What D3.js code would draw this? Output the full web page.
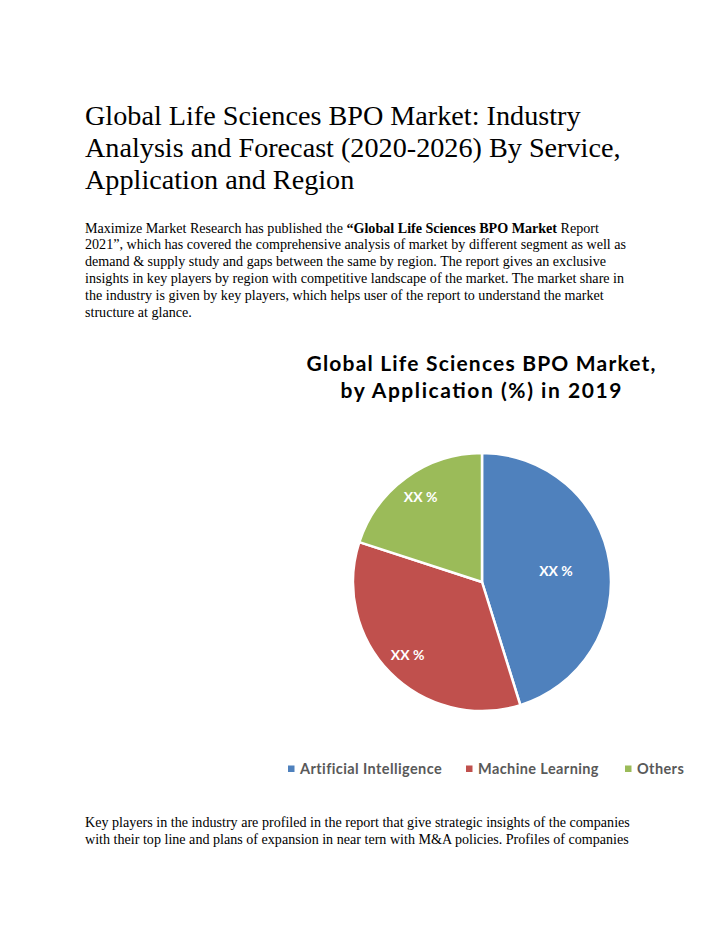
<!DOCTYPE html>
<html>
<head>
<meta charset="utf-8">
<script src="https://cdn.jsdelivr.net/npm/d3@7"></script>
<style>
html,body{margin:0;padding:0;background:#fff;}
svg{display:block;}
</style>
</head>
<body>
<script>
const titleLines = [
  "Global Life Sciences BPO Market: Industry",
  "Analysis and Forecast (2020-2026) By Service,",
  "Application and Region"
];
const introLines = [
  [["Maximize Market Research has published the ", false], ["\u201cGlobal Life Sciences BPO Market", true], [" Report", false]],
  [["2021\u201d, which has covered the comprehensive analysis of market by different segment as well as", false]],
  [["demand & supply study and gaps between the same by region. The report gives an exclusive", false]],
  [["insights in key players by region with competitive landscape of the market. The market share in", false]],
  [["the industry is given by key players, which helps user of the report to understand the market", false]],
  [["structure at glance.", false]]
];
const outroLines = [
  "Key players in the industry are profiled in the report that give strategic insights of the companies",
  "with their top line and plans of expansion in near tern with M&A policies. Profiles of companies"
];
const chartTitle = ["Global Life Sciences BPO Market,", "by Application (%) in 2019"];
const categories = ["Artificial Intelligence", "Machine Learning", "Others"];
const shares = [45.2, 34.8, 20.0];
const labels = ["XX %", "XX %", "XX %"];
const colors = ["#4f81bd", "#c0504d", "#9bbb59"];

const W = 720, H = 931;
const serif = "'Liberation Serif', 'Times New Roman', serif";
const sans = "Lato, 'Open Sans', sans-serif";
const svg = d3.select("body").append("svg").attr("width", W).attr("height", H);

// Page heading (24pt Times)
svg.append("g").selectAll("text").data(titleLines).join("text")
  .attr("x", 85).attr("y", (d, i) => 124.5 + i * 32.4)
  .attr("font-family", serif)
  .attr("font-size", 28.2).attr("fill", "#000").text(d => d);

// Intro paragraph (12pt Times)
const intro = svg.append("g").attr("font-family", serif)
  .attr("font-size", 14.1).attr("fill", "#000");
introLines.forEach((line, i) => {
  const t = intro.append("text").attr("x", 85).attr("y", 232.5 + i * 16.8);
  line.forEach(([s, b]) => t.append("tspan").attr("font-weight", b ? "bold" : "normal").text(s));
});

// Chart title
const titleWidths = [349, 281];
svg.append("g").selectAll("text").data(chartTitle).join("text")
  .attr("x", 481).attr("y", (d, i) => 371 + i * 26.5)
  .attr("text-anchor", "middle")
  .attr("font-family", sans).attr("font-weight", "bold")
  .attr("font-size", 21).attr("fill", "#000")
  .attr("textLength", (d, i) => titleWidths[i]).attr("lengthAdjust", "spacing")
  .text(d => d);

// Pie
const cx = 482, cy = 582, R = 129;
const pie = d3.pie().sort(null).value(d => d)(shares);
const arc = d3.arc().innerRadius(0).outerRadius(R);
const g = svg.append("g").attr("transform", `translate(${cx},${cy})`);
g.selectAll("path").data(pie).join("path")
  .attr("d", arc).attr("fill", (d, i) => colors[i])
  .attr("stroke", "#fff").attr("stroke-width", 2.5).attr("stroke-linejoin", "round");
// largest slice gets its label nearer the centre, smaller ones further out
const labelPos = d => {
  const k = (d.endAngle - d.startAngle) > Math.PI * 0.8 ? 0.58 : 0.81;
  return d3.arc().innerRadius(R * k).outerRadius(R * k).centroid(d);
};
g.selectAll("text").data(pie).join("text")
  .attr("transform", d => `translate(${labelPos(d)})`)
  .attr("text-anchor", "middle").attr("dy", "0.35em")
  .attr("font-family", sans).attr("font-weight", "bold")
  .attr("font-size", 14).attr("fill", "#fff").text((d, i) => labels[i]);

// Legend
const legendX = [288, 466, 625];
const lg = svg.append("g").selectAll("g").data(categories).join("g")
  .attr("transform", (d, i) => `translate(${legendX[i]},769)`);
lg.append("rect").attr("x", 0).attr("y", -3.5).attr("width", 6.5).attr("height", 6.5)
  .attr("fill", (d, i) => colors[i]);
lg.append("text").attr("x", 12).attr("y", 0).attr("dy", "0.35em")
  .attr("font-family", sans).attr("font-weight", "bold").attr("letter-spacing", 0.4)
  .attr("font-size", 14.5).attr("fill", "#595959").text(d => d);

// Outro paragraph
svg.append("g").selectAll("text").data(outroLines).join("text")
  .attr("x", 85).attr("y", (d, i) => 827 + i * 16.8)
  .attr("font-family", serif)
  .attr("font-size", 14.1).attr("fill", "#000").text(d => d);
</script>
</body>
</html>
